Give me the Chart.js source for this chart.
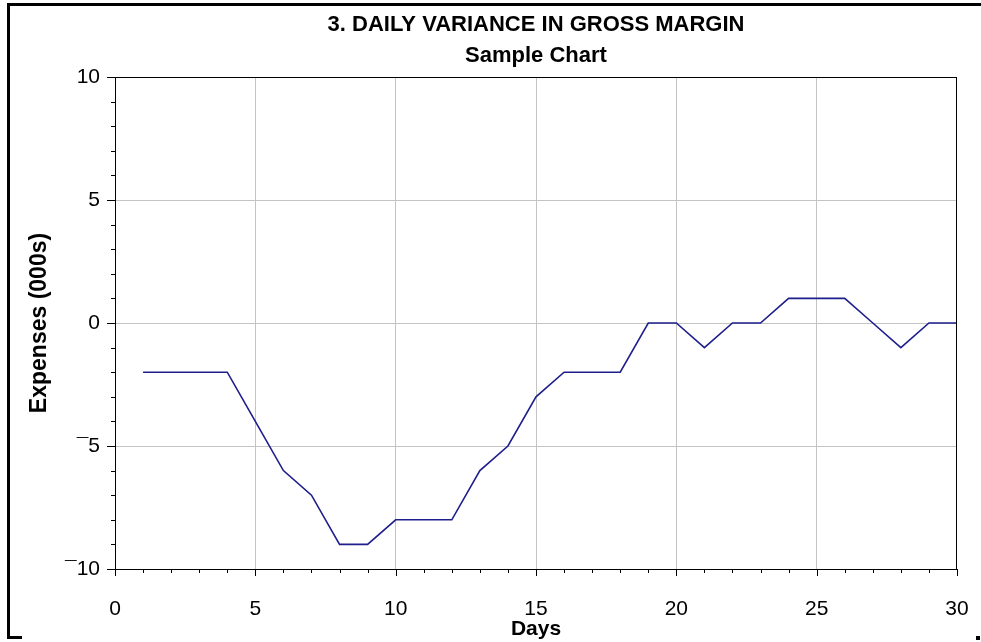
<!DOCTYPE html>
<html>
<head>
<meta charset="utf-8">
<script src="https://cdn.jsdelivr.net/npm/chart.js@4"></script>
<style>
  body { margin: 0; background: #fff; }
  #wrap { position: relative; width: 981px; height: 642px; }
  #chart { position: absolute; left: 0; top: 0; }
  .frame { position: absolute; background: #000; }
</style>
</head>
<body>
<div id="wrap">
  <canvas id="chart" width="981" height="642"></canvas>
  <div class="frame" style="left:7px;top:3px;width:3px;height:636px"></div>
  <div class="frame" style="left:7px;top:3px;width:974px;height:3px"></div>
  <div class="frame" style="left:7px;top:636px;width:15px;height:3px"></div>
  <div class="frame" style="left:976px;top:636px;width:4px;height:4px"></div>
</div>
<script>
// chart data
const days = [1, 2, 3, 4, 5, 6, 7, 8, 9, 10, 11, 12, 13, 14, 15,
              16, 17, 18, 19, 20, 21, 22, 23, 24, 25, 26, 27, 28, 29, 30];
const variance = [-2, -2, -2, -2, -4, -6, -7, -9, -9, -8, -8, -8, -6, -5, -3,
                  -2, -2, -2, 0, 0, -1, 0, 0, 1, 1, 1, 0, -1, 0, 0];
const titleText = '3. DAILY VARIANCE IN GROSS MARGIN';
const subtitleText = 'Sample Chart';
const xLabel = 'Days';
const yLabel = 'Expenses (000s)';

const fontFamily = '"Liberation Sans", Arial, sans-serif';

// negative numbers are shown with a raised minus sign
function fmt(v) {
    return v < 0 ? '\u00AF' + Math.abs(v) : String(v);
}

// titles centred over the plot area, frame and tick marks
const extras = {
    id: 'extras',
    afterDraw(chart) {
        const ctx = chart.ctx;
        const a = chart.chartArea;
        const xs = chart.scales.x;
        const ys = chart.scales.y;
        ctx.save();
        ctx.strokeStyle = '#000';
        ctx.lineWidth = 1;
        ctx.beginPath();
        ctx.moveTo(a.left, a.top + 0.5);
        ctx.lineTo(a.right, a.top + 0.5);
        ctx.moveTo(a.right - 0.5, a.top);
        ctx.lineTo(a.right - 0.5, a.bottom);
        // tick marks on x axis
        for (let v = 0; v <= 30; v++) {
            const px = Math.round(xs.getPixelForValue(v)) + 0.5;
            const len = v % 5 === 0 ? 7 : 4;
            ctx.moveTo(px, a.bottom);
            ctx.lineTo(px, a.bottom + len);
        }
        // tick marks on y axis
        for (let v = -10; v <= 10; v++) {
            const py = Math.round(ys.getPixelForValue(v)) + 0.5;
            const len = v % 5 === 0 ? 8 : 4;
            ctx.moveTo(a.left - len, py);
            ctx.lineTo(a.left, py);
        }
        ctx.stroke();

        ctx.fillStyle = '#000';
        ctx.font = 'bold 22px ' + fontFamily;
        ctx.textAlign = 'center';
        ctx.textBaseline = 'middle';
        const cx = (a.left + a.right) / 2;
        ctx.fillText(titleText, cx, 25);
        ctx.fillText(subtitleText, cx, 56);
        ctx.restore();
    }
};

const ctx = document.getElementById('chart').getContext('2d');

new Chart(ctx, {
    type: 'line',
    data: {
        datasets: [{
            data: days.map((d, i) => ({ x: d, y: variance[i] })),
            borderColor: '#1e1e8c',
            borderWidth: 1.6,
            pointRadius: 0,
            fill: false,
            tension: 0
        }]
    },
    options: {
        responsive: false,
        animation: false,
        events: [],
        layout: { padding: { left: 0, top: 77, right: 24, bottom: 0 } },
        plugins: {
            legend: { display: false },
            tooltip: { enabled: false }
        },
        scales: {
            x: {
                type: 'linear',
                min: 0,
                max: 30,
                afterFit: scale => {
                    scale.height = 73;
                    scale.paddingLeft = 0;
                    scale.paddingRight = 0;
                },
                ticks: {
                    stepSize: 5,
                    padding: 28,
                    color: '#000',
                    font: { family: fontFamily, size: 21 },
                    maxRotation: 0,
                    callback: v => fmt(v)
                },
                grid: {
                    drawTicks: false,
                    color: c => (c.tick && (c.tick.value === 0 || c.tick.value === 30)) ? 'rgba(0,0,0,0)' : '#c4c4c4',
                    lineWidth: 1
                },
                border: { display: true, color: '#000', width: 1 },
                title: {
                    display: true,
                    text: xLabel,
                    color: '#000',
                    font: { family: fontFamily, size: 21, weight: 'bold' },
                    padding: 0
                }
            },
            y: {
                min: -10,
                max: 10,
                afterFit: scale => { scale.width = 115; },
                ticks: {
                    stepSize: 5,
                    padding: 15,
                    color: '#000',
                    font: { family: fontFamily, size: 21 },
                    callback: v => fmt(v)
                },
                grid: {
                    drawTicks: false,
                    color: c => (c.tick && (c.tick.value === 10 || c.tick.value === -10)) ? 'rgba(0,0,0,0)' : '#c4c4c4',
                    lineWidth: 1
                },
                border: { display: true, color: '#000', width: 1 },
                title: {
                    display: true,
                    text: yLabel,
                    color: '#000',
                    font: { family: fontFamily, size: 23, weight: 'bold' },
                    padding: { top: 26, bottom: 0 }
                }
            }
        }
    },
    plugins: [extras]
});
</script>
</body>
</html>
